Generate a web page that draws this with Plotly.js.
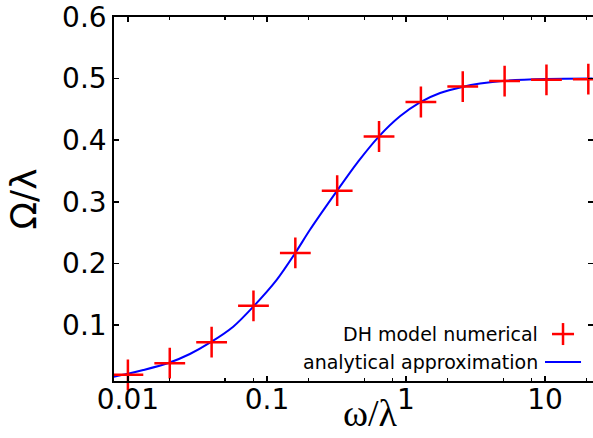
<!DOCTYPE html>
<html><head><meta charset="utf-8">
<script src="https://cdn.plot.ly/plotly-3.0.1.min.js"></script>
<style>html,body{margin:0;padding:0;background:#fff}</style>
</head><body><div id="chart" style="width:593px;height:438px"></div>
<script>
// DH model numerical (red crosses)
const numX = [0.01, 0.02, 0.04, 0.08, 0.16, 0.32, 0.64, 1.28, 2.56, 5.12, 10.24, 20.48];
const numY = [0.019, 0.038, 0.072, 0.131, 0.217, 0.318, 0.406, 0.462, 0.487, 0.496, 0.498, 0.499];
// analytical approximation (blue curve)
const fitX = [0.0079, 0.0098, 0.0129, 0.0198, 0.0279, 0.0389, 0.0572, 0.0798, 0.1175, 0.16, 0.2039, 0.317, 0.454, 0.64, 0.905, 1.26, 1.76, 2.54, 3.41, 5.12, 10.24, 22];
const fitY = [0.016, 0.0203, 0.0268, 0.0387, 0.0528, 0.0712, 0.0972, 0.1298, 0.1732, 0.217, 0.2545, 0.3168, 0.3655, 0.4062, 0.4387, 0.4615, 0.4767, 0.4865, 0.4919, 0.4965, 0.4993, 0.5];
const seriesNames = ['DH model numerical', 'analytical approximation'];
const xTickVals = [0.01, 0.1, 1, 10];
const xTickText = ['0.01', '0.1', '1', '10'];
const xMinorVals = [0.02, 0.05, 0.08, 0.2, 0.5, 0.8, 2, 5, 8, 20];
const yTickVals = [0.1, 0.2, 0.3, 0.4, 0.5, 0.6];
const yTickText = ['0.1', '0.2', '0.3', '0.4', '0.5', '0.6'];
const xTitle = 'ω/λ';
const yTitle = 'Ω/λ';

const RED = '#ff0000', BLUE = '#0000ff';
const traces = [
  {x: fitX, y: fitY, type: 'scatter', mode: 'lines', name: seriesNames[1],
   line: {color: BLUE, width: 2, shape: 'spline', smoothing: 0.8}, showlegend: false},
  {x: numX, y: numY, type: 'scatter', mode: 'markers', name: seriesNames[0], cliponaxis: false,
   marker: {symbol: 'cross-thin', size: 22, color: RED, line: {color: RED, width: 2.5}}, showlegend: false}
];

const legX = 0.889, row1 = 0.129, row2 = 0.052;
const layout = {
  width: 593, height: 438,
  margin: {l: 114, r: 0, t: 17, b: 57},
  paper_bgcolor: '#fff', plot_bgcolor: '#fff',
  font: {family: 'DejaVu Sans', color: '#000'},
  showlegend: false,
  xaxis: {
    type: 'log', range: [-2.1, 1.345],
    tickmode: 'array', tickvals: xTickVals, ticktext: xTickText,
    ticks: 'inside', ticklen: 5, tickwidth: 1.5, tickcolor: '#000',
    ticklabelstandoff: -7,
    minor: {tickmode: 'array', tickvals: xMinorVals, ticks: 'inside', ticklen: 3, tickwidth: 1.2, tickcolor: '#000'},
    showline: true, linecolor: '#000', linewidth: 1.8, mirror: 'ticks',
    showgrid: false, zeroline: false,
    tickfont: {family: 'DejaVu Sans', size: 28, color: '#000'}
  },
  yaxis: {
    range: [0.009, 0.6],
    tickmode: 'array', tickvals: yTickVals, ticktext: yTickText,
    ticks: 'inside', ticklen: 5, tickwidth: 1.5, tickcolor: '#000',
    showline: true, linecolor: '#000', linewidth: 1.8, mirror: 'ticks',
    showgrid: false, zeroline: false,
    tickfont: {family: 'DejaVu Sans', size: 28, color: '#000'},
    title: {text: yTitle, font: {family: 'DejaVu Sans', size: 36, color: '#000'}, standoff: 14}
  },
  annotations: [
    {xref: 'paper', yref: 'paper', x: 0.536, y: -0.152, xanchor: 'center', yanchor: 'bottom',
     text: xTitle, showarrow: false, font: {family: 'Liberation Serif', size: 38, color: '#000'}},
    {xref: 'paper', yref: 'paper', x: legX, y: row1, xanchor: 'right', yanchor: 'middle',
     text: seriesNames[0], showarrow: false, font: {family: 'DejaVu Sans', size: 19, color: '#000'}},
    {xref: 'paper', yref: 'paper', x: legX, y: row2, xanchor: 'right', yanchor: 'middle',
     text: seriesNames[1], showarrow: false, font: {family: 'DejaVu Sans', size: 19, color: '#000'}}
  ],
  shapes: [
    {type: 'line', xref: 'paper', yref: 'paper', x0: 0.9374 - 0.023, x1: 0.9374 + 0.023, y0: row1, y1: row1, line: {color: RED, width: 2.5}},
    {type: 'line', xref: 'paper', yref: 'paper', x0: 0.9374, x1: 0.9374, y0: row1 - 0.0302, y1: row1 + 0.0302, line: {color: RED, width: 2.5}},
    {type: 'line', xref: 'paper', yref: 'paper', x0: 0.8998, x1: 0.975, y0: row2, y1: row2, line: {color: BLUE, width: 2}}
  ]
};
Plotly.newPlot('chart', traces, layout, {staticPlot: true, displayModeBar: false});
</script></body></html>
